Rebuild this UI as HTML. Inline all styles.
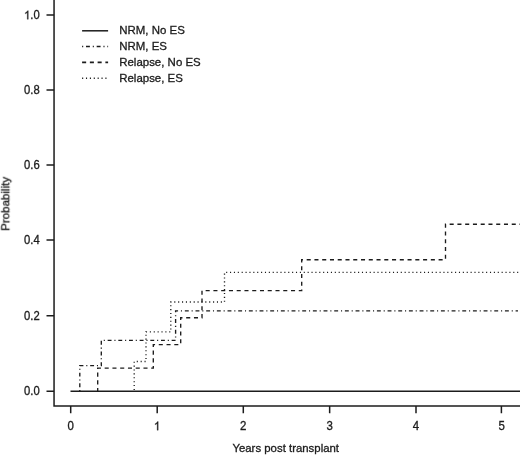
<!DOCTYPE html>
<html>
<head>
<meta charset="utf-8">
<style>
html,body{margin:0;padding:0;background:#fff;}
body{width:520px;height:455px;overflow:hidden;}
svg{display:block;}
text{font-family:"Liberation Sans",sans-serif;fill:#1c1c1c;stroke:#1c1c1c;stroke-width:.32;}
.t{filter:url(#nf);}
.g1{fill:#1c1c1c;stroke:#1c1c1c;stroke-width:.32;vector-effect:non-scaling-stroke;}
</style>
</head>
<body>
<svg width="520" height="455" viewBox="0 0 520 455">
<defs><filter id="nf" x="-5%" y="-5%" width="110%" height="110%" color-interpolation-filters="sRGB"><feOffset dx="0" dy="0"/></filter></defs>
<rect width="520" height="455" fill="#ffffff"/>
<g stroke="#1c1c1c" stroke-width="1.5" fill="none">
<!-- axes -->
<path d="M54.05 0V406H520"/>
<path d="M46.5 15.1H54.05M46.5 89.9H54.05M46.5 165H54.05M46.5 239.9H54.05M46.5 315.8H54.05M46.5 391.15H54.05"/>
<path d="M70.7 406V413.2M157.2 406V413.2M243.3 406V413.2M329.65 406V413.2M416 406V413.2M501.4 406V413.2"/>
<!-- NRM no ES -->
<path d="M70.5 391.15H520"/>
<!-- NRM ES -->
<path stroke-width="1.35" stroke-dasharray="1.1 2.8 3.9 2.87" stroke-dashoffset="0" d="M79.8 391.15V365.6H101.3V340.4H175.6V310.9H518"/>
<!-- Relapse no ES -->
<path stroke-width="1.35" stroke-dasharray="4.05 3.71" stroke-dashoffset="1.02" d="M97.7 391.15V368.1H153.3V344.6H180.7V317.7H202V290.6H301.7V259.7H445.5V224.2H520"/>
<!-- Relapse ES -->
<path stroke-width="1.35" stroke-dasharray="1.1 2.78" stroke-dashoffset="2.72" d="M134.2 391.15V361.5H146V331.9H170.8V302H224.5V272.4H520"/>
<!-- legend -->
<path d="M82.1 30.8H108.1"/>
<path stroke-width="1.5" stroke-dasharray="1.1 2.8 3.9 2.87" d="M82.1 46.6H108.1"/>
<path stroke-width="1.6" stroke-dasharray="4.05 3.71" d="M82.1 62.4H108.1"/>
<path stroke-width="1.5" stroke-dasharray="1.1 2.78" d="M82.1 78.2H108.1"/>
</g>
<g class="t" font-size="11.8">
<text transform="translate(119.2 34.3) scale(.972 1)">NRM, No ES</text>
<text transform="translate(119.2 50.1) scale(.972 1)">NRM, ES</text>
<text transform="translate(119.2 65.9) scale(.972 1)">Relapse, No ES</text>
<text transform="translate(119.2 81.7) scale(.972 1)">Relapse, ES</text>
</g>
<g class="t" font-size="11.9" text-anchor="end">
<text transform="translate(39.7 19.25) scale(.945 1)">.0</text>
<path class="g1" transform="translate(24.07 19.25) scale(0.005491 0.005811)" d="M763 0H583V-1147Q518 -1085 412.5 -1023Q307 -961 223 -930V-1104Q374 -1175 487 -1276Q600 -1377 647 -1472H763Z"/>
<text transform="translate(39.7 94.05) scale(.945 1)">0.8</text>
<text transform="translate(39.7 169.15) scale(.945 1)">0.6</text>
<text transform="translate(39.7 244.05) scale(.945 1)">0.4</text>
<text transform="translate(39.7 319.95) scale(.945 1)">0.2</text>
<text transform="translate(39.7 395.30) scale(.945 1)">0.0</text>
</g>
<g class="t" font-size="12" text-anchor="middle">
<text transform="translate(70.8 430.2) scale(.955 1)">0</text>
<path class="g1" transform="translate(153.91 430.2) scale(0.005596 0.005859)" d="M763 0H583V-1147Q518 -1085 412.5 -1023Q307 -961 223 -930V-1104Q374 -1175 487 -1276Q600 -1377 647 -1472H763Z"/>
<text transform="translate(243.3 430.2) scale(.955 1)">2</text>
<text transform="translate(329.7 430.2) scale(.955 1)">3</text>
<text transform="translate(415.9 430.2) scale(.955 1)">4</text>
<text transform="translate(501.6 430.2) scale(.955 1)">5</text>
<text font-size="11.8" transform="translate(285.7 452.3) scale(.966 1)">Years post transplant</text>
</g>
<text class="t" font-size="11.2" text-anchor="middle" transform="translate(9.3 203.8) rotate(-90) scale(1.03 1)">Probability</text>
</svg>
</body>
</html>
